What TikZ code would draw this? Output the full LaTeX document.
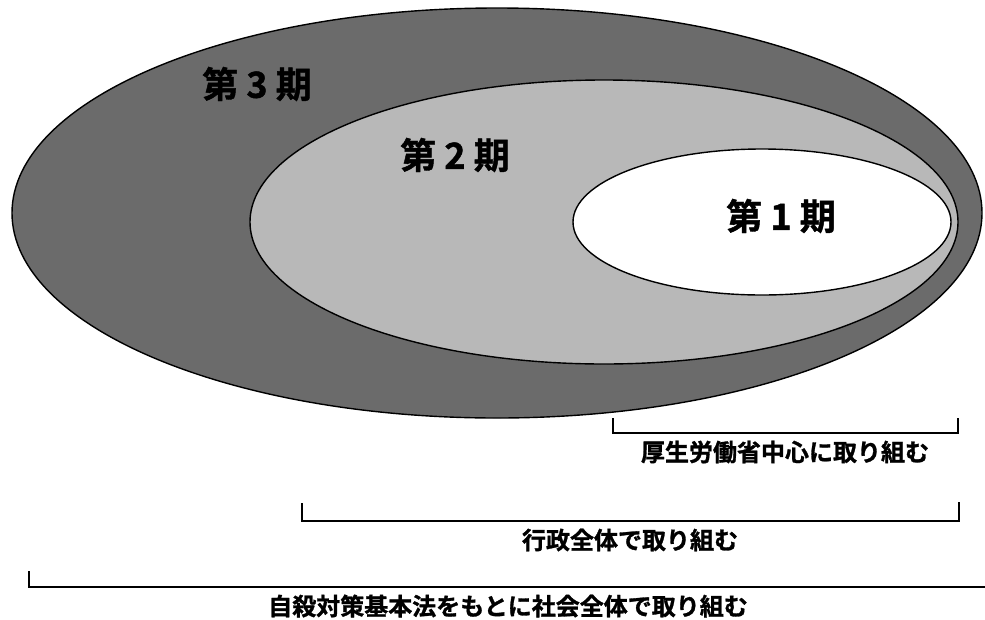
\documentclass[tikz,border=0pt]{standalone}
\usepackage{fontspec}
\usetikzlibrary{shapes.geometric}
\newfontfamily\jpb{Noto Sans CJK JP Bold}[FakeBold=1.2]
\begin{document}
\begin{tikzpicture}[x=1pt,y=1pt,
  ring/.style={ellipse, draw=black, line width=1.4pt, inner sep=0pt},
  phase/.style={font=\jpb\fontsize{36}{36}\selectfont, inner sep=0pt},
  lbl/.style={font=\jpb\fontsize{24}{24}\selectfont, inner sep=0pt},
  brk/.style={line width=1.3pt, line cap=butt}]
\useasboundingbox (0,0) rectangle (985,-619);
\fill[white] (0,0) rectangle (985,-619);
% ellipses
\node[ring, fill=black!58, minimum width=970pt, minimum height=410pt] (e3) at (497,-213) {};
\node[ring, fill=black!28, minimum width=708pt, minimum height=284pt] (e2) at (604,-222) {};
\node[ring, fill=white, minimum width=378pt, minimum height=146pt] (e1) at (762,-222) {};
% phase labels
\node[phase] (p3) at (257,-84) {第 3 期};
\node[phase] (p2) at (455,-155) {第 2 期};
\node[phase] (p1) at (781,-216) {第 1 期};
% brackets
\coordinate (b1a) at (613,-418);
\coordinate (b1b) at (958,-418);
\coordinate (b1base) at (0,-433);
\draw[brk] (b1a) -- (b1a |- b1base) -- (b1b |- b1base) -- (b1b);
\node[lbl] (t1) at (785,-452) {厚生労働省中心に取り組む};
\coordinate (b2a) at (302,-503);
\coordinate (b2b) at (959,-502);
\coordinate (b2base) at (0,-521);
\draw[brk] (b2a) -- (b2a |- b2base) -- (b2b |- b2base) -- (b2b);
\node[lbl] (t2) at (630,-540) {行政全体で取り組む};
\coordinate (b3a) at (29,-571);
\coordinate (b3b) at (990,-571);
\coordinate (b3base) at (0,-587);
\draw[brk] (b3a) -- (b3a |- b3base) -- (b3b |- b3base);
\node[lbl] (t3) at (508,-606) {自殺対策基本法をもとに社会全体で取り組む};
\end{tikzpicture}
\end{document}
